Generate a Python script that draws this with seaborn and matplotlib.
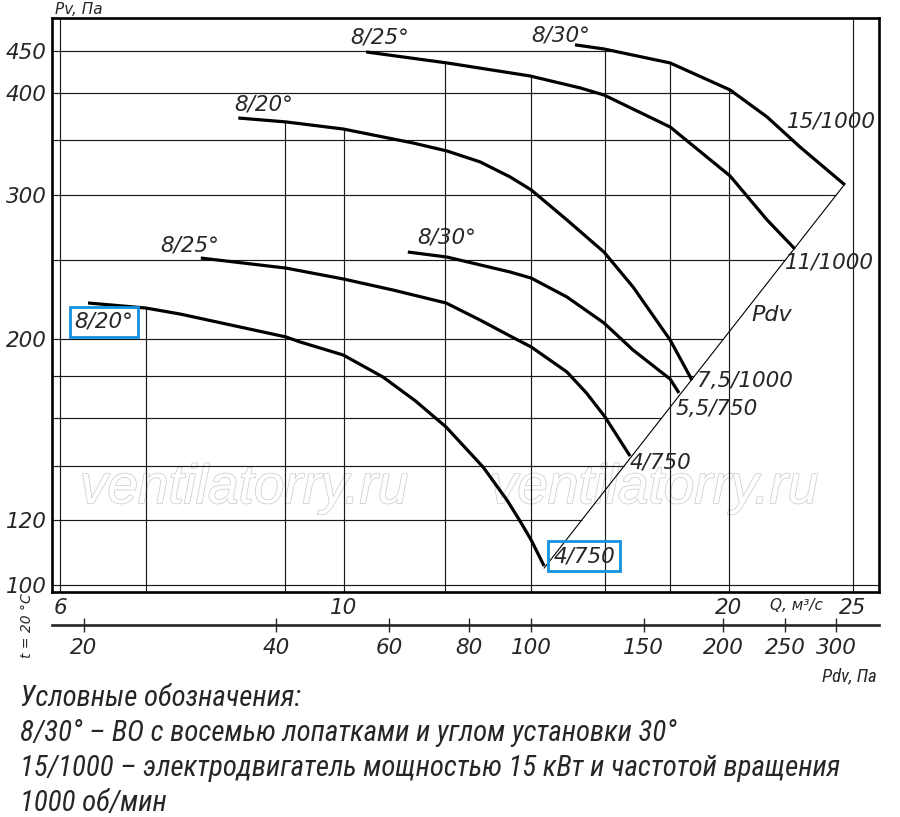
import numpy as np
import pandas as pd
import matplotlib
matplotlib.use("Agg")
import matplotlib.pyplot as plt
import matplotlib.patheffects as pe
from matplotlib import font_manager
from matplotlib.font_manager import FontProperties
import seaborn as sns

# ---------------- data ----------------
# Curve A: 8/20 deg, motor 4/750
QA = [6.31, 7.00, 7.45, 9.01, 9.24, 9.99, 10.73, 11.37, 12.02, 12.85, 13.41, 13.73, 14.01, 14.34]
PA = [221.4, 218.3, 214.6, 201.2, 198.4, 191.2, 179.7, 168.1, 156.1, 139.4, 127.1, 119.8, 113.5, 105.5]
# Curve B: 8/25 deg, motor 4/750
QB = [7.73, 9.01, 9.99, 10.93, 12.02, 12.78, 13.49, 14.01, 14.94, 15.48, 16.00, 16.74]
PB = [251.3, 244.3, 236.9, 229.6, 221.4, 211.0, 201.7, 195.6, 182.3, 171.7, 160.6, 143.8]
# Curve C: 8/30 deg, motor 5,5/750
QC = [11.22, 12.04, 13.49, 14.01, 14.94, 15.97, 16.83, 17.99, 18.28]
PC = [255.6, 252.0, 241.6, 237.5, 225.2, 209.3, 193.9, 178.7, 171.8]
# Curve D: 8/20 deg, motor 7,5/1000
QD = [8.27, 9.01, 9.99, 11.33, 12.04, 12.78, 13.49, 14.01, 14.94, 15.97, 16.83, 17.99, 18.71]
PD = [372.9, 368.8, 361.5, 347.5, 339.8, 329.5, 315.8, 304.5, 279.8, 255.6, 231.6, 199.5, 178.2]
# Curve E: 8/25 deg, motor 11/1000
QE = [10.41, 12.04, 13.98, 15.30, 15.97, 17.99, 20.04, 21.42, 22.52]
PE = [449.2, 435.5, 419.8, 405.9, 397.9, 363.6, 316.7, 279.8, 257.8]
# Curve F: 8/30 deg, motor 15/1000
QF = [15.16, 15.97, 17.99, 20.04, 21.42, 22.73, 24.64]
PF = [458.3, 453.0, 435.5, 403.6, 374.0, 343.6, 308.8]

BLADE_LABELS = ["8/20°", "8/25°", "8/30°", "8/20°", "8/25°", "8/30°"]
MOTOR_LABELS = ["4/750", "4/750", "5,5/750", "7,5/1000", "11/1000", "15/1000"]

K_DV = 0.51  # Pdv = K_DV * Q^2

Q_GRID = [6, 7, 9, 10, 12, 14, 16, 18, 20, 25]
P_GRID = [100, 120, 140, 160, 180, 200, 250, 300, 350, 400, 450]
Q_TICKS = [6, 10, 20, 25]
P_TICKS = [100, 120, 200, 300, 400, 450]
PDV_TICKS = [20, 40, 60, 80, 100, 150, 200, 250, 300]

LEGEND_LINES = [
    "Условные обозначения:",
    "8/30° – ВО с восемью лопатками и углом установки 30°",
    "15/1000 – электродвигатель мощностью 15 кВт и частотой вращения",
    "1000 об/мин",
]

curves = [(QA, PA), (QB, PB), (QC, PC), (QD, PD), (QE, PE), (QF, PF)]

# ---------------- style ----------------
sns.set_theme(style="white")
plt.rcParams["font.family"] = ["DejaVu Sans"]
plt.rcParams["font.style"] = "italic"


def _is_light(w):
    try:
        return int(w) <= 500
    except (TypeError, ValueError):
        return str(w).lower() in ("normal", "regular", "book", "medium", "roman")


def find_narrow():
    best = None
    prio = ["liberation sans narrow", "arial narrow", "roboto condensed",
            "open sans condensed", "noto sans condensed", "dejavu sans condensed",
            "dejavu sans"]
    for f in font_manager.fontManager.ttflist:
        n = f.name.lower()
        fn = f.fname.lower()
        st = str(f.stretch).lower()
        narrow = ("narrow" in n or "condensed" in n or "narrow" in fn or "condensed" in fn
                  or st in ("condensed", "semi-condensed", "extra-condensed",
                            "ultra-condensed"))
        if not narrow or f.style not in ("italic", "oblique") or not _is_light(f.weight):
            continue
        if "bold" in fn or "light" in fn or "thin" in fn or "black" in fn:
            continue
        key = len(prio)
        for i, p in enumerate(prio):
            if n.startswith(p) or p.replace(" ", "") in fn.replace("-", "").replace("_", ""):
                key = i
                break
        if best is None or key < best[0]:
            best = (key, f.fname)
    return best[1] if best else None


NARROW_FILE = find_narrow()


def narrow_fp(size):
    if NARROW_FILE:
        return FontProperties(fname=NARROW_FILE, size=size)
    return FontProperties(family="DejaVu Sans", style="italic", size=size)


fig = plt.figure(figsize=(9, 8.17), dpi=100)
L, R, T, B = 52, 879, 18, 592
W, H = 900, 817
ax = fig.add_axes([L / W, 1 - B / H, (R - L) / W, (B - T) / H])
ax.set_xscale("log")
ax.set_yscale("log")
XMIN, XMAX = 5.914, 26.20
YMIN, YMAX = 98.05, 494.3
ax.set_xlim(XMIN, XMAX)
ax.set_ylim(YMIN, YMAX)

BLUE = "#1591e0"

# ---------------- grid clipped to envelope ----------------
q_lo, q_hi = QA[-1], QF[-1]
grid_kw = dict(color="#1a1a1a", lw=0.85, zorder=1)

for g in Q_GRID:
    tops = [np.exp(np.interp(np.log(g), np.log(q), np.log(p)))
            for q, p in curves if q[0] <= g <= q[-1]]
    top = max(tops) if tops else YMAX
    ax.vlines(g, YMIN, top, **grid_kw)

for h in P_GRID:
    rights = []
    for q, p in curves:
        if min(p) <= h <= max(p):
            rights.append(np.exp(np.interp(np.log(h), np.log(p[::-1]), np.log(q[::-1]))))
    if K_DV * q_lo ** 2 <= h <= K_DV * q_hi ** 2:
        rights.append(np.sqrt(h / K_DV))
    right = max(rights) if rights else XMAX
    ax.hlines(h, XMIN, right, **grid_kw)

# ---------------- curves ----------------
for q, p in curves:
    df = pd.DataFrame({"Q": q, "Pv": p})
    sns.lineplot(data=df, x="Q", y="Pv", ax=ax, color="black", lw=2.3,
                 sort=False, estimator=None, zorder=3)
for line in ax.lines:
    line.set_solid_joinstyle("round")
    line.set_solid_capstyle("butt")

# Pdv line
qq = np.geomspace(q_lo, q_hi, 20)
sns.lineplot(x=qq, y=K_DV * qq ** 2, ax=ax, color="black", lw=0.8, zorder=2)

# ---------------- labels on curves ----------------
start_off = [(16, -19), (-11, 13), (39, 15), (25, 14), (14, 14), (-14, 9)]
end_off = [(9, 10), (0, -6), (-3, -16), (5, -1), (-10, -14), (-58, 63)]
FS = 15.5
for i, (q, p) in enumerate(curves):
    kw = {}
    if i == 0:
        kw = dict(bbox=dict(boxstyle="square,pad=0.22", fc="none", ec=BLUE, lw=2))
    ax.annotate(BLADE_LABELS[i], (q[0], p[0]), xytext=start_off[i],
                textcoords="offset pixels", ha="center", va="center",
                fontsize=FS, zorder=5, **kw)
    ax.annotate(MOTOR_LABELS[i], (q[-1], p[-1]), xytext=end_off[i],
                textcoords="offset pixels", ha="left", va="center",
                fontsize=FS, zorder=5, **kw)

ax.text(0.8706, 0.4826, "Pdv", transform=ax.transAxes, ha="center", va="center",
        fontsize=16)

# watermark
for xw in (0.0339, 0.5296):
    ax.text(xw, 0.155, "ventilatorry.ru", transform=ax.transAxes, ha="left",
            va="baseline", fontsize=39.5, family="Liberation Sans", color="white",
            zorder=0.5,
            path_effects=[pe.withStroke(linewidth=1.1, foreground="#cdcdcd")])

# ---------------- axes formatting ----------------
for s in ax.spines.values():
    s.set_visible(True)
    s.set_linewidth(1.9)
    s.set_color("black")

ax.xaxis.set_minor_locator(matplotlib.ticker.NullLocator())
ax.yaxis.set_minor_locator(matplotlib.ticker.NullLocator())
ax.set_xticks(Q_TICKS)
ax.set_xticklabels([str(v) for v in Q_TICKS])
ax.set_yticks(P_TICKS)
ax.set_yticklabels([str(v) for v in P_TICKS])
ax.tick_params(axis="both", length=0, labelsize=15.5)
ax.tick_params(axis="x", pad=4)
ax.tick_params(axis="y", pad=4)
ax.set_xlabel("")
ax.set_ylabel("")

sec = ax.secondary_xaxis(-0.0575, functions=(lambda q: K_DV * np.asarray(q) ** 2,
                                             lambda p: np.sqrt(np.abs(np.asarray(p)) / K_DV)))
sec.xaxis.set_minor_locator(matplotlib.ticker.NullLocator())
sec.set_xticks(PDV_TICKS)
sec.set_xticklabels([str(v) for v in PDV_TICKS])
sec.spines["bottom"].set_linewidth(1.9)
sec.tick_params(axis="x", direction="inout", length=10, width=1.0,
                labelsize=15.5, pad=4)

# ---------------- figure texts ----------------
fig.text(55 / W, 1 - 9 / H, "Pv, Па", fontsize=11, ha="left", va="center")
fig.text(796 / W, 1 - 605 / H, "Q, м³/с", fontsize=11, ha="center", va="center")
pdv_txt = fig.text(877 / W, 1 - 676 / H, "Pdv, Па", fontproperties=narrow_fp(12.5),
                   ha="right", va="center")
fig.text(27 / W, 1 - 626 / H, "t = 20 °C", fontsize=10, rotation=90,
         ha="center", va="center")

leg_texts = []
for i, line in enumerate(LEGEND_LINES):
    t = fig.text(20 / W, 1 - (698 + 35 * i) / H, line, fontproperties=narrow_fp(19.5),
                 ha="left", va="center")
    leg_texts.append(t)

# fit the legend block to the reference width (line 3 spans ~823 px)
fig.canvas.draw()
rend = fig.canvas.get_renderer()
w3 = leg_texts[2].get_window_extent(rend).width
scale = min(1.12, 823.0 / w3)
for t in leg_texts:
    t.set_fontsize(19.5 * scale)
wp = pdv_txt.get_window_extent(rend).width
pdv_txt.set_fontsize(12.5 * min(1.12, 55.0 / wp))

fig.savefig("out.png", dpi=100)
